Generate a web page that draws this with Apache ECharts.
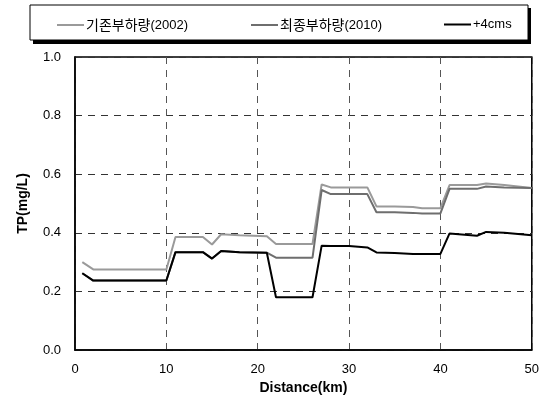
<!DOCTYPE html>
<html><head><meta charset="utf-8">
<script src="https://cdn.jsdelivr.net/npm/echarts@6/dist/echarts.min.js"></script>
<style>html,body{margin:0;padding:0;background:#fff}#c{width:542px;height:406px}</style>
</head><body><div id="c"></div>
<script>
var distance = [0.8, 2, 10, 11, 14, 15, 16, 18, 21, 22, 26, 27, 28, 30, 32, 33, 35, 37, 38, 40, 41, 44, 45, 47, 50];
var base2002 = [0.30, 0.275, 0.275, 0.386, 0.386, 0.36, 0.395, 0.392, 0.388, 0.362, 0.362, 0.565, 0.555, 0.555, 0.555, 0.49, 0.49, 0.488, 0.484, 0.484, 0.563, 0.563, 0.568, 0.563, 0.553];
var final2010 = [0.262, 0.237, 0.237, 0.334, 0.334, 0.312, 0.338, 0.334, 0.332, 0.315, 0.315, 0.546, 0.532, 0.532, 0.532, 0.47, 0.47, 0.468, 0.466, 0.466, 0.55, 0.55, 0.558, 0.555, 0.553];
var plus4cms = [0.262, 0.237, 0.237, 0.334, 0.334, 0.312, 0.338, 0.334, 0.332, 0.18, 0.18, 0.356, 0.355, 0.355, 0.35, 0.333, 0.331, 0.328, 0.328, 0.328, 0.398, 0.39, 0.403, 0.4, 0.392];
var names = ['기존부하량(2002)', '최종부하량(2010)', '+4cms'];
var colors = ['#9a9a9a', '#6e6e6e', '#000000'];

function pairs(v){ return distance.map(function(d,i){ return [d, v[i]]; }); }
var FONT = '"Liberation Sans", Arial, "Noto Sans CJK KR", sans-serif';
var chart = echarts.init(document.getElementById('c'), null, {renderer:'canvas'});
function leg(i, left){
  return {show:true, data:[names[i]], left:left, top:18, icon:'rect', itemWidth:27, itemHeight:2,
    itemGap:0, padding:0,
    formatter:function(n){
      var m = n.match(/^([^\(\+]*)(.*)$/);
      return (m[1] ? '{k|' + m[1] + '}' : '') + '{n|' + m[2] + '}';
    },
    textStyle:{fontFamily:FONT, fontSize:13, color:'#000', padding:[0,0,0,-3],
      rich:{k:{fontFamily:'"Noto Sans CJK KR", sans-serif', fontSize:14, color:'#000'},
            n:{fontFamily:FONT, fontSize:13, color:'#000'}}}};
}
chart.setOption({
  animation:false,
  textStyle:{fontFamily:FONT},
  graphic:[
    {type:'rect', shape:{x:33, y:8, width:498, height:36}, style:{fill:'#000'}, z:-10, silent:true},
    {type:'rect', shape:{x:30, y:5, width:498, height:35}, style:{fill:'#fff', stroke:'#000', lineWidth:1}, z:-9, silent:true}
  ],
  legend:[leg(0,57), leg(1,251), leg(2,444)],
  grid:{left:75, right:9, top:57, bottom:56, show:true, borderColor:'#000', borderWidth:1.5},
  xAxis:{type:'value', min:0, max:50, interval:10,
    name:'Distance(km)', nameLocation:'middle', nameGap:30,
    nameTextStyle:{fontFamily:FONT, fontSize:14, fontWeight:'bold', color:'#000'},
    axisLine:{show:true, lineStyle:{color:'#000', width:1.5}}, axisTick:{show:false},
    axisLabel:{fontFamily:FONT, fontSize:13, color:'#000', margin:13},
    splitLine:{show:true, lineStyle:{color:'#555', type:[7,6], width:1}}},
  yAxis:{type:'value', min:0, max:1, interval:0.2,
    name:'TP(mg/L)', nameLocation:'middle', nameGap:45,
    nameTextStyle:{fontFamily:FONT, fontSize:14, fontWeight:'bold', color:'#000'},
    axisLine:{show:true, lineStyle:{color:'#000', width:1.5}}, axisTick:{show:false},
    axisLabel:{fontFamily:FONT, fontSize:13, color:'#000', margin:14, formatter:function(v){return v.toFixed(1);}},
    splitLine:{show:true, lineStyle:{color:'#333', type:[7,6], width:1}}},
  series:[
    {name:names[0], type:'line', data:pairs(base2002), showSymbol:false, lineStyle:{color:colors[0], width:2}, itemStyle:{color:colors[0]}},
    {name:names[1], type:'line', data:pairs(final2010), showSymbol:false, lineStyle:{color:colors[1], width:2}, itemStyle:{color:colors[1]}},
    {name:names[2], type:'line', data:pairs(plus4cms), showSymbol:false, lineStyle:{color:colors[2], width:2}, itemStyle:{color:colors[2]}}
  ]
});
</script></body></html>
